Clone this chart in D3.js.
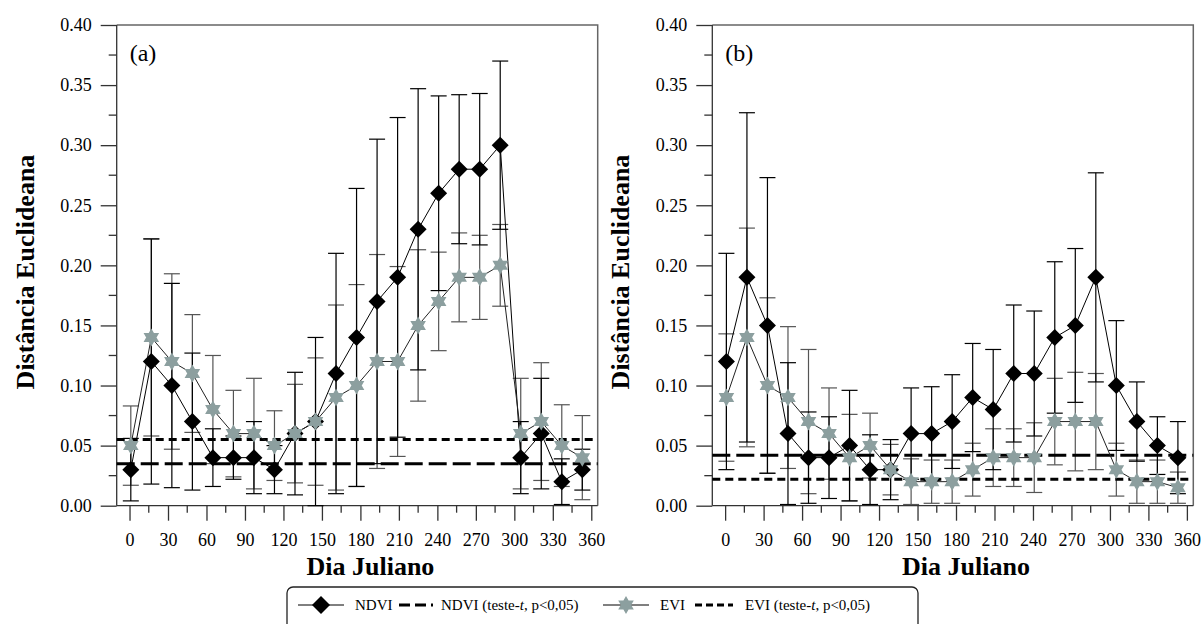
<!DOCTYPE html>
<html><head><meta charset="utf-8">
<script src="https://cdn.jsdelivr.net/npm/d3@7"></script>
<style>
body{margin:0;background:#fff;}
svg{display:block;font-family:"Liberation Serif","Times New Roman",serif;}
</style></head>
<body>
<svg id="chart" width="1204" height="624"></svg>
<script>
const days = [1,17,33,49,65,81,97,113,129,145,161,177,193,209,225,241,257,273,289,305,321,337,353];
const xTicks = [0,30,60,90,120,150,180,210,240,270,300,330,360];
const yTicks = [0,0.05,0.10,0.15,0.20,0.25,0.30,0.35,0.40];

const ndviA    = [0.03,0.12,0.10,0.07,0.04,0.04,0.04,0.03,0.06,0.07,0.11,0.14,0.17,0.19,0.23,0.26,0.28,0.28,0.30,0.04,0.06,0.02,0.03];
const ndviAErr = [0.026,0.102,0.085,0.057,0.024,0.018,0.030,0.020,0.051,0.070,0.100,0.124,0.135,0.133,0.117,0.081,0.062,0.063,0.070,0.030,0.046,0.019,0.017];
const eviA     = [0.05,0.14,0.12,0.11,0.08,0.06,0.06,0.05,0.06,0.07,0.09,0.10,0.12,0.12,0.15,0.17,0.19,0.19,0.20,0.06,0.07,0.05,0.04];
const eviAErr  = [0.033,0.082,0.073,0.049,0.045,0.036,0.046,0.029,0.041,0.053,0.077,0.084,0.089,0.079,0.063,0.041,0.037,0.035,0.034,0.046,0.049,0.034,0.035];

const ndviB    = [0.12,0.19,0.15,0.06,0.04,0.04,0.05,0.03,0.03,0.06,0.06,0.07,0.09,0.08,0.11,0.11,0.14,0.15,0.19,0.10,0.07,0.05,0.04];
const ndviBErr = [0.090,0.137,0.123,0.059,0.038,0.034,0.046,0.029,0.025,0.038,0.039,0.039,0.045,0.050,0.057,0.052,0.063,0.064,0.087,0.054,0.033,0.024,0.030];
const eviB     = [0.09,0.14,0.10,0.09,0.07,0.06,0.04,0.05,0.03,0.02,0.02,0.02,0.03,0.04,0.04,0.04,0.07,0.07,0.07,0.03,0.02,0.02,0.015];
const eviBErr  = [0.053,0.091,0.073,0.059,0.060,0.038,0.036,0.027,0.021,0.019,0.018,0.018,0.022,0.024,0.024,0.029,0.036,0.041,0.040,0.022,0.018,0.018,0.013];

const thrNdvi = [0.035, 0.042];
const thrEvi  = [0.055, 0.022];
const panelLabels = ["(a)","(b)"];

const svg = d3.select("#chart");
const EVI_COLOR = "#8c9f9f";

function starPath(r){
  const p = [];
  for (const off of [-90, 90]) {
    const pts = [0,120,240].map(a => {
      const t = (a+off)*Math.PI/180;
      return [r*Math.cos(t), r*Math.sin(t)];
    });
    p.push("M"+pts.map(q=>q.join(",")).join("L")+"Z");
  }
  return p.join("");
}
function diamondPath(r){ return `M0,${-r}L${r},0L0,${r}L${-r},0Z`; }

function drawPanel(ox, ndvi, ndviErr, evi, eviErr, tN, tE, label){
  const left = ox, right = ox + 481, top = 25, bottom = 505.7;
  const x = d3.scaleLinear().domain([-10,365]).range([left,right]);
  const y = d3.scaleLinear().domain([0,0.40]).range([bottom,top]);
  const g = svg.append("g");

  g.append("path").attr("d",`M${left},${top}H${right}V${bottom}`)
    .attr("fill","none").attr("stroke","#666").attr("stroke-width",1.5);

  const ya = g.append("g").attr("transform",`translate(${left},0)`)
    .call(d3.axisLeft(y).tickValues(yTicks).tickFormat(d3.format(".2f")).tickSize(16).tickPadding(9));
  ya.selectAll("text").attr("font-size",18).attr("fill","#000").attr("font-family","Liberation Serif");
  ya.selectAll("line,path").attr("stroke","#333").attr("stroke-width",1.3);
  ya.select(".domain").attr("d",`M0,${top}V${bottom}`);
  const yMinor = d3.range(0.025,0.40,0.05);
  g.selectAll(".ymin").data(yMinor).join("line")
    .attr("x1",left-8).attr("x2",left).attr("y1",d=>y(d)).attr("y2",d=>y(d))
    .attr("stroke","#333").attr("stroke-width",1.3);

  const xa = g.append("g").attr("transform",`translate(0,${bottom})`)
    .call(d3.axisBottom(x).tickValues(xTicks).tickSize(15).tickPadding(13));
  xa.selectAll("text").attr("font-size",18).attr("fill","#000").attr("font-family","Liberation Serif");
  xa.selectAll("line,path").attr("stroke","#333").attr("stroke-width",1.3);
  xa.select(".domain").attr("d",`M${left},0H${right}`);
  const xMinor = d3.range(15,360,30);
  g.selectAll(".xmin").data(xMinor).join("line")
    .attr("x1",d=>x(d)).attr("x2",d=>x(d)).attr("y1",bottom).attr("y2",bottom+7)
    .attr("stroke","#333").attr("stroke-width",1.3);

  g.append("text").attr("x",x(180)+10).attr("y",575).attr("text-anchor","middle")
    .attr("font-size",26).attr("font-weight","bold").text("Dia Juliano");
  g.append("text").attr("transform",`translate(${left-83},272) rotate(-90)`).attr("text-anchor","middle")
    .attr("font-size",26).attr("font-weight","bold").text("Distância Euclideana");
  g.append("text").attr("x",left+13).attr("y",61).attr("font-size",24).text(label);

  function errBars(vals, errs, color){
    const eg = g.append("g").attr("stroke",color).attr("stroke-width",1.2).attr("fill","none");
    days.forEach((d,i)=>{
      const cx = x(d), y1 = y(vals[i]-errs[i]), y2 = y(vals[i]+errs[i]);
      eg.append("line").attr("x1",cx).attr("x2",cx).attr("y1",y1).attr("y2",y2);
      eg.append("line").attr("x1",cx-8).attr("x2",cx+8).attr("y1",y1).attr("y2",y1);
      eg.append("line").attr("x1",cx-8).attr("x2",cx+8).attr("y1",y2).attr("y2",y2);
    });
  }
  errBars(evi, eviErr, "#555");
  errBars(ndvi, ndviErr, "#000");

  g.append("line").attr("x1",left).attr("x2",right).attr("y1",y(tN)).attr("y2",y(tN))
    .attr("stroke","#000").attr("stroke-width",3).attr("stroke-dasharray","18,6");
  g.append("line").attr("x1",left).attr("x2",right).attr("y1",y(tE)).attr("y2",y(tE))
    .attr("stroke","#000").attr("stroke-width",3).attr("stroke-dasharray","8,5");

  const line = d3.line().x((d,i)=>x(days[i])).y(d=>y(d));
  g.append("path").datum(ndvi).attr("d",line).attr("fill","none").attr("stroke","#000").attr("stroke-width",1);
  g.append("path").datum(evi).attr("d",line).attr("fill","none").attr("stroke","#222").attr("stroke-width",1);

  g.selectAll(".nd").data(ndvi).join("path")
    .attr("transform",(d,i)=>`translate(${x(days[i])},${y(d)})`)
    .attr("d",diamondPath(8.5)).attr("fill","#000");
  g.selectAll(".ev").data(evi).join("path")
    .attr("transform",(d,i)=>`translate(${x(days[i])},${y(d)})`)
    .attr("d",starPath(9)).attr("fill",EVI_COLOR);
}

drawPanel(116.7, ndviA, ndviAErr, eviA, eviAErr, thrNdvi[0], thrEvi[0], panelLabels[0]);
drawPanel(712.3, ndviB, ndviBErr, eviB, eviBErr, thrNdvi[1], thrEvi[1], panelLabels[1]);

const lg = svg.append("g");
lg.append("rect").attr("x",287).attr("y",587).attr("width",631).attr("height",50).attr("rx",6)
  .attr("fill","#fff").attr("stroke","#222").attr("stroke-width",1.3);
const ly = 605;
lg.append("line").attr("x1",298).attr("x2",344).attr("y1",ly).attr("y2",ly).attr("stroke","#000").attr("stroke-width",1);
lg.append("path").attr("transform",`translate(321,${ly})`).attr("d",diamondPath(9)).attr("fill","#000");
lg.append("text").attr("x",355).attr("y",ly+5).attr("font-size",15).text("NDVI");
lg.append("line").attr("x1",399).attr("x2",433).attr("y1",ly).attr("y2",ly).attr("stroke","#000").attr("stroke-width",3).attr("stroke-dasharray","11,5");
const t1 = lg.append("text").attr("x",441).attr("y",ly+5).attr("font-size",15);
t1.append("tspan").text("NDVI (teste-");
t1.append("tspan").attr("font-style","italic").text("t");
t1.append("tspan").text(", p<0,05)");
lg.append("line").attr("x1",603).attr("x2",649).attr("y1",ly).attr("y2",ly).attr("stroke","#000").attr("stroke-width",1);
lg.append("path").attr("transform",`translate(626,${ly})`).attr("d",starPath(9)).attr("fill",EVI_COLOR);
lg.append("text").attr("x",660).attr("y",ly+5).attr("font-size",15).text("EVI");
lg.append("line").attr("x1",695).attr("x2",733).attr("y1",ly).attr("y2",ly).attr("stroke","#000").attr("stroke-width",3).attr("stroke-dasharray","7,4");
const t2 = lg.append("text").attr("x",745).attr("y",ly+5).attr("font-size",15);
t2.append("tspan").text("EVI (teste-");
t2.append("tspan").attr("font-style","italic").text("t");
t2.append("tspan").text(", p<0,05)");
</script>
</body></html>
